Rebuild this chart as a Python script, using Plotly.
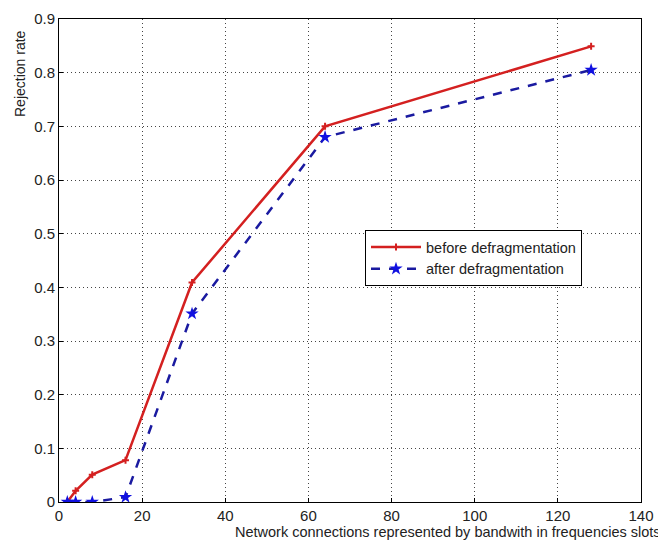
import plotly.graph_objects as go

x_vals = [2, 4, 8, 16, 32, 64, 128]
before_defrag = [0.0, 0.021, 0.051, 0.078, 0.409, 0.700, 0.849]
after_defrag = [0.0, 0.0, 0.0, 0.009, 0.351, 0.680, 0.805]

x_ticks = [0, 20, 40, 60, 80, 100, 120, 140]
y_ticks = [0, 0.1, 0.2, 0.3, 0.4, 0.5, 0.6, 0.7, 0.8, 0.9]
y_tick_text = ["0", "0.1", "0.2", "0.3", "0.4", "0.5", "0.6", "0.7", "0.8", "0.9"]

FONT = "Liberation Sans, Arial, sans-serif"

fig = go.Figure()
fig.add_trace(go.Scatter(
    x=x_vals, y=before_defrag, mode="lines+markers",
    name="before defragmentation",
    line=dict(color="#d42020", width=2.5),
    marker=dict(symbol="cross-thin-open", size=5, line=dict(color="#d42020", width=2)),
))
fig.add_trace(go.Scatter(
    x=x_vals, y=after_defrag, mode="lines+markers",
    name="after defragmentation",
    line=dict(color="#1a1aa0", width=2.5, dash="dash"),
    marker=dict(symbol="star", size=10, color="#1010e0"),
))

axis_common = dict(
    showgrid=True, gridcolor="#444", griddash="1px,3px", gridwidth=1,
    showline=True, linecolor="black", linewidth=1, mirror=True,
    ticks="inside", ticklen=4, tickcolor="black",
    zeroline=False, automargin=False,
    tickfont=dict(family=FONT, size=15, color="#222"),
)

fig.update_xaxes(range=[0, 140], tickvals=x_ticks, **axis_common)
fig.update_yaxes(range=[0, 0.9], tickvals=y_ticks, ticktext=y_tick_text, **axis_common)

# y-axis title sits near the top, as in the reference
fig.add_annotation(
    text="Rejection rate", textangle=-90,
    xref="paper", yref="paper", x=0, y=(502 - 74) / 483, xshift=-39,
    xanchor="center", yanchor="middle", showarrow=False,
    font=dict(family=FONT, size=14, color="#222"),
)

fig.add_annotation(
    text="Network connections represented by bandwith in frequencies slots",
    xref="paper", yref="paper", x=0.668, y=0, yshift=-30,
    xanchor="center", yanchor="middle", showarrow=False,
    font=dict(family=FONT, size=14.5, color="#222"),
)

# page body has an 8px default margin, so the figure is sized/shifted to compensate
fig.update_layout(
    width=658, height=533,
    margin=dict(l=51, r=25, t=11, b=39),
    paper_bgcolor="white", plot_bgcolor="white",
    showlegend=True,
    legend=dict(
        x=(365 - 59) / 582, y=(502 - 230) / 483, xanchor="left", yanchor="top",
        bgcolor="white", bordercolor="black", borderwidth=1,
        font=dict(family=FONT, size=14.5, color="#222"),
        tracegroupgap=0, itemwidth=50,
    ),
)

fig.write_html("out.html")
